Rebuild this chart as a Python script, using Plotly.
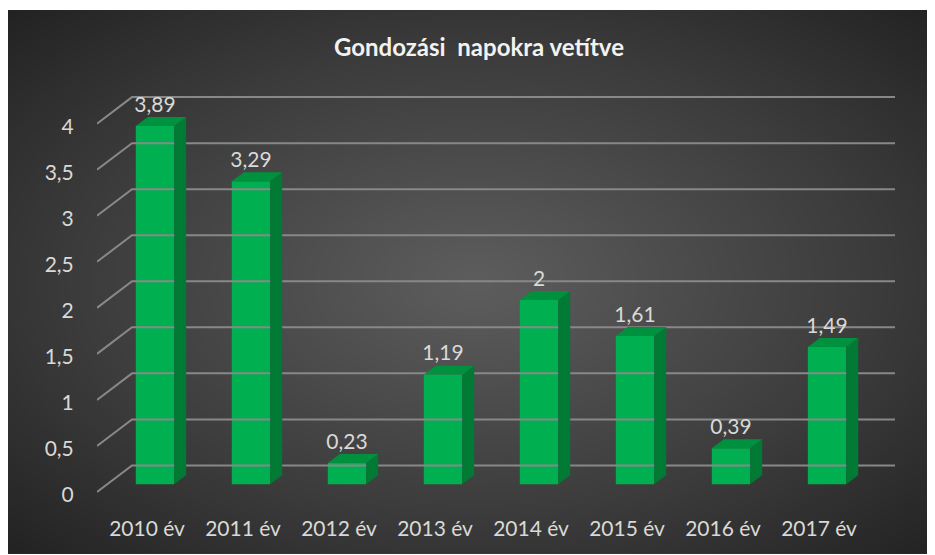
import numpy as np
import plotly.graph_objects as go

years = ['2010 év', '2011 év', '2012 év', '2013 év', '2014 év', '2015 év', '2016 év', '2017 év']
values = [3.89, 3.29, 0.23, 1.19, 2, 1.61, 0.39, 1.49]
y_ticks = [0, 0.5, 1, 1.5, 2, 2.5, 3, 3.5, 4]

W, H = 935, 555
OFF = 8          # page body margin: screen px = figure px + 8
FONT = 'Lato'
LABEL = '#d9d9d9'

# pixel scale of the fake 3d chart
px_cat = 96.0
px_val = 93.6
x0, x1 = -0.604, 7.708
y0, y1 = -0.139, 4.241

bw = 0.4                                   # bar width (category units)
sx, sy = 12 / px_cat, 9 / px_val           # bar depth
fdy = -8 / px_val                          # front edge of the floor/axis
bdx, bdy = 35 / px_cat, 19 / px_val        # back wall


def fmt(v):
    return f'{v:g}'.replace('.', ',')


def fx(px):
    return (px - OFF) / W


def fy(px):
    return 1 - (px - OFF) / H


xs = list(range(len(years)))

fig = go.Figure()

# background radial gradient (chart area), on its own full-size axes
gx = np.linspace(0, 1, 60)
gy = np.linspace(0, 1, 40)
GX, GY = np.meshgrid(gx, gy)
dist = np.sqrt(((GX - 0.5) * 2) ** 2 + ((GY - 0.5) * 2) ** 2) / np.sqrt(2)
fig.add_trace(go.Heatmap(x=gx, y=gy, z=dist, zsmooth='best', showscale=False,
                         colorscale=[[0, '#5c5c5c'], [0.6, '#3b3b3b'], [1, '#222222']],
                         hoverinfo='skip', xaxis='x', yaxis='y'))

# gridlines: front-left diagonal then along the back wall
gxl, gyl = [], []
for v in y_ticks:
    gxl += [x0, x0 + bdx, x1, None]
    gyl += [v + fdy, v + bdy, v + bdy, None]
fig.add_trace(go.Scatter(x=gxl, y=gyl, mode='lines', line=dict(color='#888888', width=2),
                         hoverinfo='skip', xaxis='x2', yaxis='y2'))

# front faces
fig.add_trace(go.Bar(x=xs, y=values, width=bw, marker=dict(color='#00b050', line_width=0),
                     hoverinfo='skip', xaxis='x2', yaxis='y2'))

# side faces
sxl, syl = [], []
for c, v in zip(xs, values):
    r = c + bw / 2
    sxl += [r, r + sx, r + sx, r, r, None]
    syl += [0, sy, v + sy, v, 0, None]
fig.add_trace(go.Scatter(x=sxl, y=syl, mode='lines', fill='toself', fillcolor='#007a35',
                         line=dict(width=0, color='#007a35'), hoverinfo='skip',
                         xaxis='x2', yaxis='y2'))

# top faces
txl, tyl = [], []
for c, v in zip(xs, values):
    l, r = c - bw / 2, c + bw / 2
    txl += [l, r, r + sx, l + sx, l, None]
    tyl += [v, v, v + sy, v + sy, v, None]
fig.add_trace(go.Scatter(x=txl, y=tyl, mode='lines', fill='toself', fillcolor='#00913f',
                         line=dict(width=0, color='#00913f'), hoverinfo='skip',
                         xaxis='x2', yaxis='y2'))

# data labels
fig.add_trace(go.Scatter(x=xs, y=[v + sy for v in values], mode='text',
                         text=[fmt(v) for v in values], textposition='top center',
                         textfont=dict(family=FONT, size=21, color=LABEL),
                         hoverinfo='skip', xaxis='x2', yaxis='y2'))

fig.update_layout(
    width=W, height=H,
    margin=dict(l=0, r=0, t=0, b=0),
    paper_bgcolor='white',
    plot_bgcolor='rgba(0,0,0,0)',
    showlegend=False,
    xaxis=dict(domain=[0, 1], range=[0, 1], visible=False, fixedrange=True),
    yaxis=dict(domain=[0, fy(10)], range=[0, 1], visible=False, fixedrange=True),
    xaxis2=dict(domain=[fx(97), fx(895)], range=[x0, x1], anchor='y2',
                showgrid=False, zeroline=False, showline=False,
                tickvals=[c - 0.083 for c in xs], ticktext=years,
                ticks='outside', ticklen=13, tickcolor='rgba(0,0,0,0)',
                tickfont=dict(family=FONT, size=21, color=LABEL)),
    yaxis2=dict(domain=[fy(505), fy(95)], range=[y0, y1], anchor='x2',
                showgrid=False, zeroline=False, showline=False,
                tickvals=[v + fdy - 3 / px_val for v in y_ticks],
                ticktext=[fmt(v) for v in y_ticks],
                ticks='outside', ticklen=18, tickcolor='rgba(0,0,0,0)',
                tickfont=dict(family=FONT, size=21, color=LABEL)),
    title=dict(text='<b>Gondozási  napokra vetítve</b>', x=fx(479), xanchor='center',
               y=fy(48), yanchor='middle',
               font=dict(family=FONT, size=24, color='#f2f2f2')),
)

fig.write_html('out.html')
